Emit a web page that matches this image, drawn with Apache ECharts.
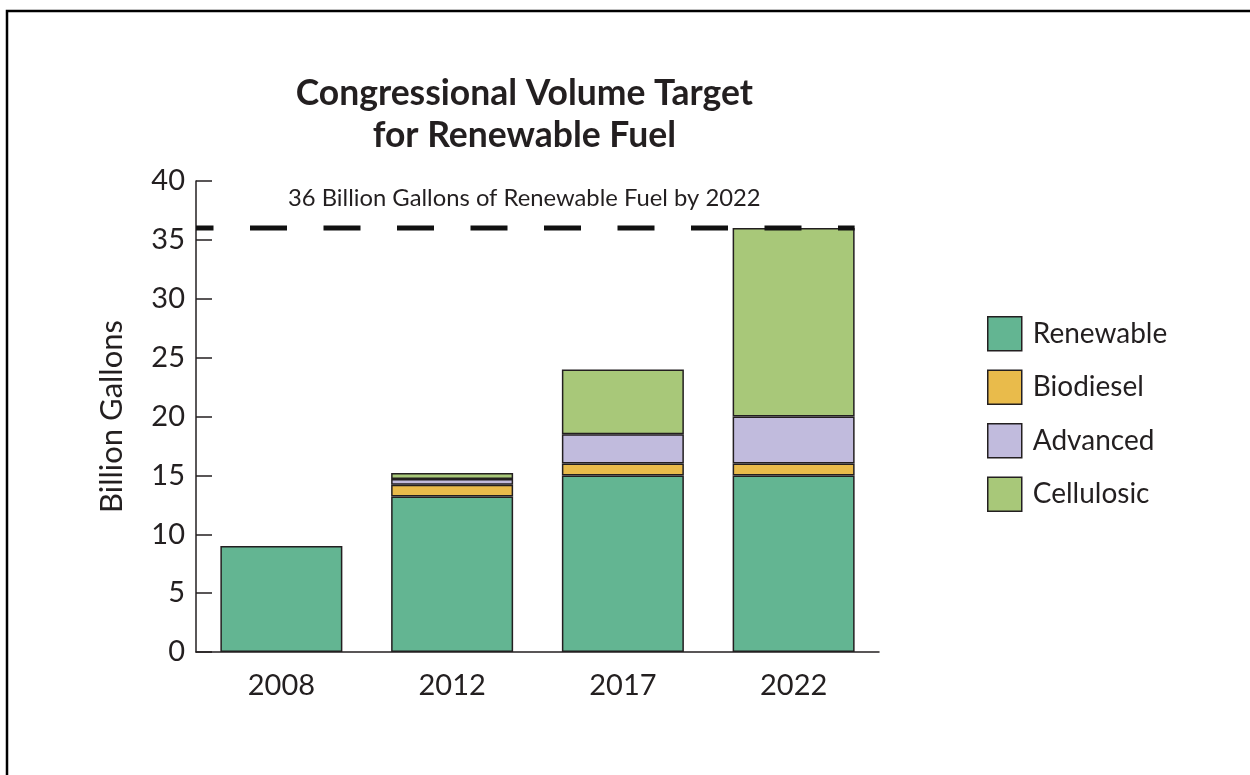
<!DOCTYPE html>
<html>
<head>
<meta charset="utf-8">
<script src="https://cdn.jsdelivr.net/npm/echarts@6/dist/echarts.min.js"></script>
<style>
  html, body { margin: 0; padding: 0; background: #ffffff; }
  #chart { width: 1250px; height: 775px; }
</style>
</head>
<body>
<div id="chart"></div>
<script>
// Renewable Fuel Standard volume targets (billion gallons)
const years = ['2008', '2012', '2017', '2022'];
const renewable = [9, 13.2, 15, 15];
const biodiesel = [null, 1.0, 1.0, 1.0];
const advanced = [null, 0.5, 2.5, 4.0];
const cellulosic = [null, 0.5, 5.5, 16.0];
const targetValue = 36;
const targetLabel = '36 Billion Gallons of Renewable Fuel by 2022';
const titleLines = ['Congressional Volume Target', 'for Renewable Fuel'];
const yTicks = { min: 0, max: 40, step: 5 };

const FONT = 'Lato, "Open Sans", sans-serif';
const INK = '#231f20';
const BAR_W = 122;

const colors = {
  Renewable: '#63b592',
  Biodiesel: '#e9bb4b',
  Advanced: '#c1bbdd',
  Cellulosic: '#a8c879'
};

function barSeries(name, values) {
  return {
    name: name,
    type: 'bar',
    stack: 'total',
    barWidth: BAR_W,
    data: values,
    itemStyle: { color: colors[name], borderColor: INK, borderWidth: 1.5 },
    emphasis: { disabled: true }
  };
}

const chart = echarts.init(document.getElementById('chart'), null, { renderer: 'canvas' });

chart.setOption({
  animation: false,
  backgroundColor: '#ffffff',
  textStyle: { fontFamily: FONT, color: INK },
  grid: { left: 196, top: 181, width: 683, height: 471, containLabel: false },
  legend: {
    orient: 'vertical',
    left: 982,
    top: 311,
    icon: 'rect',
    itemWidth: 34,
    itemHeight: 34,
    itemGap: 18,
    textStyle: { fontFamily: FONT, fontSize: 28, color: INK, padding: [0, 0, 0, 6] },
    itemStyle: { borderColor: INK, borderWidth: 1.5 },
    data: ['Renewable', 'Biodiesel', 'Advanced', 'Cellulosic'],
    selectedMode: false
  },
  xAxis: {
    type: 'category',
    data: years,
    axisLine: { lineStyle: { color: INK, width: 1.5 } },
    axisTick: { inside: true, length: 15, lineStyle: { color: INK, width: 1.5 } },
    axisLabel: { fontFamily: FONT, fontSize: 29, color: INK, margin: 19 }
  },
  yAxis: {
    type: 'value',
    min: yTicks.min,
    max: yTicks.max,
    interval: yTicks.step,
    name: 'Billion Gallons',
    nameLocation: 'middle',
    nameGap: 69,
    nameTextStyle: { fontFamily: FONT, fontSize: 31, color: INK },
    axisLine: { show: true, lineStyle: { color: INK, width: 1.5 } },
    axisTick: { show: true, inside: true, length: 16, lineStyle: { color: INK, width: 1.5 } },
    axisLabel: { fontFamily: FONT, fontSize: 29, color: INK, margin: 11 },
    splitLine: { show: false }
  },
  series: [
    barSeries('Renewable', renewable),
    barSeries('Biodiesel', biodiesel),
    barSeries('Advanced', advanced),
    barSeries('Cellulosic', cellulosic)
  ]
});

// Target line, annotation, title and frame placed from the axis scales
const yTarget = chart.convertToPixel({ yAxisIndex: 0 }, targetValue);
const xFirst = chart.convertToPixel({ xAxisIndex: 0 }, years[0]);
const xSecond = chart.convertToPixel({ xAxisIndex: 0 }, years[1]);
const xLast = chart.convertToPixel({ xAxisIndex: 0 }, years[years.length - 1]);
const band = xSecond - xFirst;
const lineStart = xFirst - band / 2;
const lineEnd = xLast + BAR_W / 2;
const titleCenter = (lineStart + lineEnd) / 2 - 1;

chart.setOption({
  graphic: [
    {
      type: 'line',
      z: 100,
      shape: { x1: lineStart, y1: yTarget, x2: lineEnd, y2: yTarget },
      style: { stroke: '#111111', lineWidth: 5, lineDash: [37, 36.5], lineDashOffset: 19.5 }
    },
    {
      type: 'text',
      x: titleCenter,
      y: yTarget - 30,
      style: { text: targetLabel, fill: INK, font: '23.8px ' + FONT, align: 'center', verticalAlign: 'middle' }
    },
    {
      type: 'text',
      x: titleCenter,
      y: 94,
      style: { text: titleLines[0], fill: INK, font: 'bold 35.5px ' + FONT, align: 'center', verticalAlign: 'middle' }
    },
    {
      type: 'text',
      x: titleCenter,
      y: 136,
      style: { text: titleLines[1], fill: INK, font: 'bold 35.5px ' + FONT, align: 'center', verticalAlign: 'middle' }
    },
    {
      type: 'polyline',
      shape: { points: [[7, 775], [7, 11], [1250, 11]] },
      style: { stroke: '#000000', lineWidth: 2.5, fill: null }
    }
  ]
});
</script>
</body>
</html>
